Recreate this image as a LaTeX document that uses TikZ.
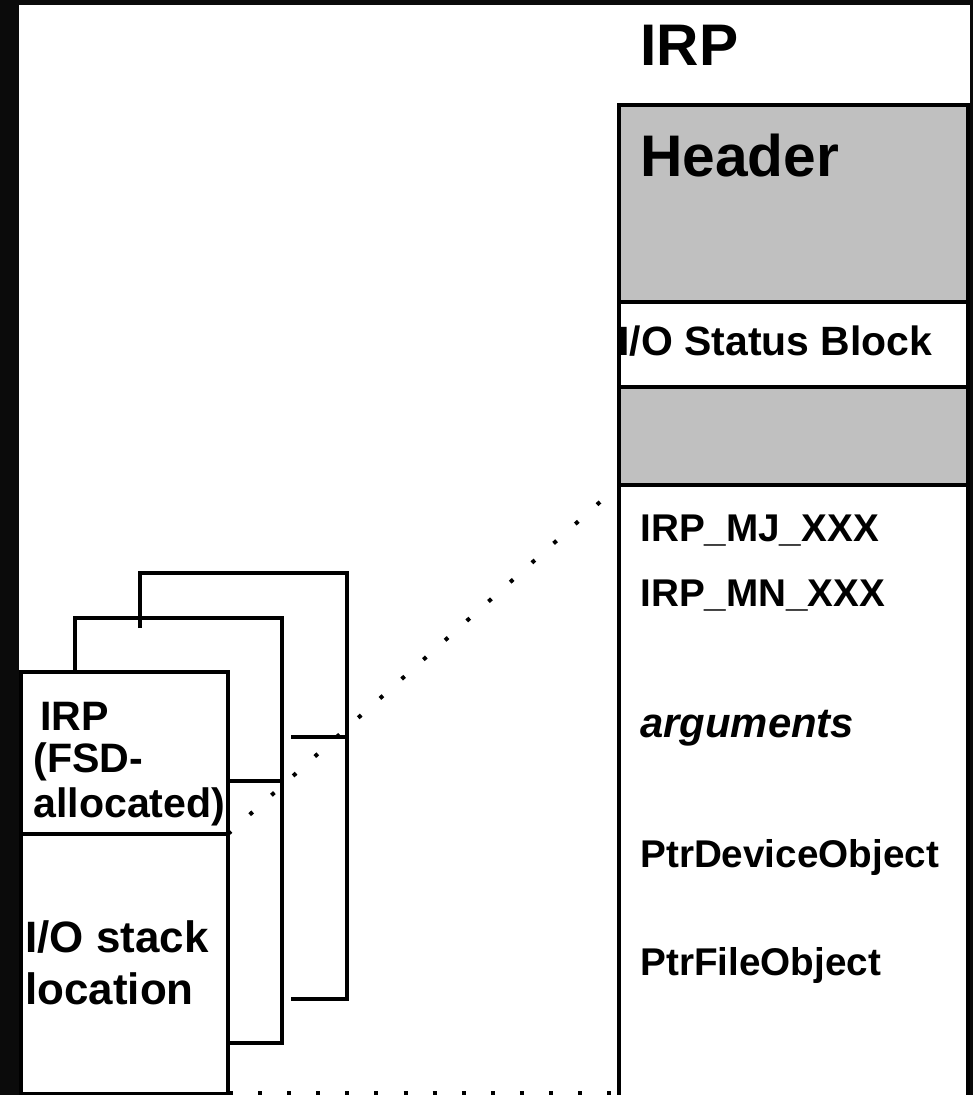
\documentclass[tikz,border=0pt]{standalone}
\usepackage{fontspec}
\setmainfont{Liberation Sans}
\definecolor{framebg}{HTML}{0B0B0B}
\definecolor{cellgray}{HTML}{C0C0C0}
\begin{document}
\begin{tikzpicture}[x=0.02cm,y=-0.02cm,
    every node/.style={inner sep=0pt,anchor=base west},
    bigtxt/.style={font=\bfseries\fontsize{33.4}{40}\selectfont},
    fieldtxt/.style={font=\bfseries\fontsize{22}{26}\selectfont},
    stacktxt/.style={font=\bfseries\fontsize{23.4}{26}\selectfont},
    wall/.style={line width=2pt},
    dotline/.style={line width=0.08cm,dash pattern=on 0.08cm off 0.502cm}]
  \useasboundingbox (0,0) rectangle (973,1095);
  \fill[framebg] (0,0) rectangle (973,1095);
  \fill[white] (19,5) rectangle (970,1095);

  % IRP body
  \fill[cellgray] (619,105) rectangle (968,302);
  \fill[cellgray] (619,387) rectangle (968,485);
  \node[bigtxt] (irptitle) at (640,66) {IRP};
  \node[bigtxt] (header) at (640,176) {Header};
  \node[font=\bfseries\fontsize{23.3}{26}\selectfont] (iosb) at (618,355) {I/O Status Block};
  \node[fieldtxt] (major) at (640,541) {IRP\_MJ\_XXX};
  \node[fieldtxt] (minor) at (640,606) {IRP\_MN\_XXX};
  \node[font=\bfseries\itshape\fontsize{23.8}{26}\selectfont] (args) at (640,737) {arguments};
  \node[fieldtxt] (devobj) at (640,867) {PtrDeviceObject};
  \node[fieldtxt] (fileobj) at (640,975) {PtrFileObject};
  \begin{scope}[wall]
    \draw (619,1100) coordinate (r1) -- (619,105) coordinate (r2)
      -- (968,105) coordinate (r3) -- (968,1100);
    \draw (r2 |- 0,302) -- (968,302);
    \draw (r2 |- 0,387) -- (968,387);
    \draw (r2 |- 0,485) coordinate (irpdiv) -- (968,485);
    \coordinate (irpbot) at (619,1093);
  \end{scope}

  % stack of IRPs
  \begin{scope}[wall]
    \draw (140,628) -- (140,573) -- (347,573) -- (347,999) -- (291,999);
    \draw (291,737) -- (347,737);
    \draw (75,672) -- (75,618) -- (282,618) -- (282,1043) -- (230,1043);
    \draw (230,781) -- (282,781);
    \draw[fill=white] (21,672) rectangle (228,1094);
    \draw (21,834) -- (228,834) coordinate (fsddiv);
    \coordinate (fsdbot) at (229,1093);
  \end{scope}
  \node[stacktxt] (fsdA) at (40,730) {IRP};
  \node[stacktxt] (fsdB) at (33,772) {(FSD-};
  \node[stacktxt] (fsdC) at (33,817) {allocated)};
  \node[font=\bfseries\fontsize{25}{28}\selectfont] (stackA) at (25,952) {I/O stack};
  \node[font=\bfseries\fontsize{25}{28}\selectfont] (stackB) at (25,1004) {location};

  \draw[dotline] (fsddiv) -- (irpdiv);
  \draw[dotline] (fsdbot) -- (irpbot);
\end{tikzpicture}
\end{document}
